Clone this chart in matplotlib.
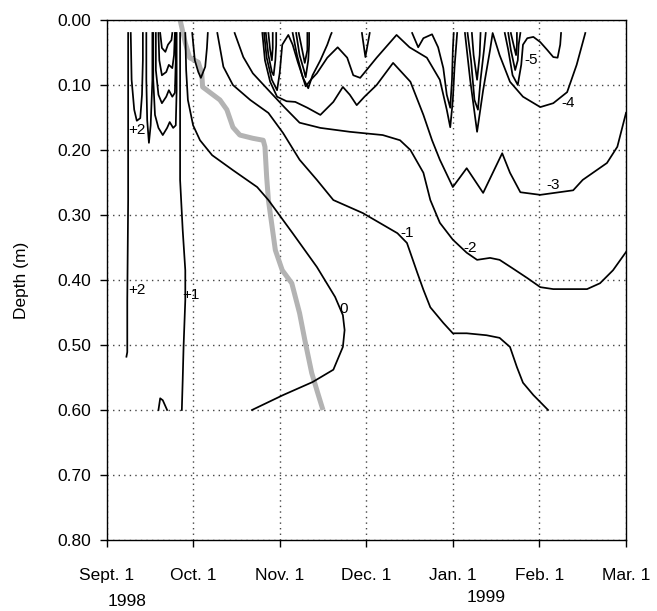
import matplotlib
matplotlib.use("Agg")
import matplotlib.pyplot as plt

# =========================
# data: x = months since Sept. 1 1998, y = depth (m)
# =========================
month_labels = ["Sept. 1", "Oct. 1", "Nov. 1", "Dec. 1", "Jan. 1", "Feb. 1", "Mar. 1"]
depth_ticks = [0.0, 0.1, 0.2, 0.3, 0.4, 0.5, 0.6, 0.7, 0.8]

# frost front (gray)
frost_front = [(0.85, 0.0), (0.91, 0.035), (0.96, 0.058), (1.06, 0.065), (1.10, 0.082),
               (1.11, 0.103), (1.20, 0.112), (1.31, 0.123), (1.39, 0.138), (1.46, 0.165),
               (1.54, 0.177), (1.69, 0.182), (1.81, 0.185), (1.83, 0.195), (1.85, 0.242),
               (1.87, 0.277), (1.95, 0.354), (2.03, 0.385), (2.14, 0.405), (2.23, 0.451),
               (2.29, 0.492), (2.37, 0.543), (2.44, 0.574), (2.50, 0.600)]

# +2 isotherms
iso_p2_long = [(0.25, 0.02), (0.25, 0.277), (0.24, 0.431), (0.24, 0.511), (0.23, 0.518)]
iso_p2_u = [(0.28, 0.02), (0.29, 0.092), (0.32, 0.138), (0.35, 0.155), (0.39, 0.151),
            (0.41, 0.115), (0.42, 0.062), (0.42, 0.02)]
iso_p2_v = [(0.46, 0.02), (0.46, 0.092), (0.47, 0.154), (0.49, 0.189), (0.51, 0.162),
            (0.53, 0.092), (0.53, 0.02)]
iso_p2_arch = [(0.60, 0.60), (0.62, 0.582), (0.65, 0.585), (0.70, 0.60)]
# warm nested loops near the surface
warm_1 = [(0.54, 0.02), (0.54, 0.092), (0.56, 0.146), (0.60, 0.166), (0.65, 0.177),
          (0.70, 0.166), (0.73, 0.157), (0.77, 0.166), (0.80, 0.162), (0.81, 0.108), (0.81, 0.02)]
warm_2 = [(0.57, 0.02), (0.57, 0.077), (0.60, 0.115), (0.64, 0.128), (0.69, 0.118),
          (0.72, 0.108), (0.76, 0.118), (0.79, 0.112), (0.80, 0.062), (0.80, 0.02)]
warm_3 = [(0.60, 0.02), (0.61, 0.062), (0.64, 0.085), (0.69, 0.080), (0.72, 0.069),
          (0.76, 0.074), (0.78, 0.054), (0.79, 0.02)]
warm_4 = [(0.62, 0.02), (0.64, 0.043), (0.68, 0.049), (0.71, 0.038), (0.75, 0.031), (0.76, 0.02)]

# +1 isotherms
iso_p1 = [(0.85, 0.02), (0.85, 0.123), (0.85, 0.246), (0.88, 0.323), (0.91, 0.385),
          (0.91, 0.431), (0.89, 0.503), (0.88, 0.554), (0.87, 0.600)]
iso_p1_u = [(0.99, 0.02), (1.02, 0.062), (1.06, 0.080), (1.09, 0.089), (1.14, 0.072),
            (1.16, 0.043), (1.17, 0.02)]

# 0 isotherm
iso_0 = [(0.91, 0.02), (0.92, 0.077), (0.94, 0.123), (1.00, 0.162), (1.08, 0.185),
         (1.22, 0.208), (1.46, 0.231), (1.74, 0.257), (1.87, 0.277), (2.15, 0.328),
         (2.43, 0.380), (2.64, 0.426), (2.73, 0.454), (2.75, 0.477), (2.73, 0.503),
         (2.62, 0.538), (2.38, 0.557), (2.04, 0.577), (1.68, 0.600)]

# -1 isotherm
iso_m1 = [(1.28, 0.02), (1.35, 0.072), (1.46, 0.100), (1.66, 0.123), (1.87, 0.143),
          (2.04, 0.174), (2.23, 0.215), (2.43, 0.246), (2.62, 0.277), (2.96, 0.297),
          (3.36, 0.328), (3.47, 0.343), (3.59, 0.389), (3.66, 0.415), (3.74, 0.442),
          (3.89, 0.466), (4.00, 0.482), (4.16, 0.482), (4.39, 0.485), (4.54, 0.489),
          (4.66, 0.503), (4.74, 0.534), (4.81, 0.558), (4.93, 0.577), (5.10, 0.600)]

# -2 isotherm
iso_m2 = [(1.48, 0.02), (1.58, 0.057), (1.69, 0.082), (1.85, 0.105), (2.06, 0.135),
          (2.23, 0.158), (2.47, 0.166), (2.81, 0.172), (3.19, 0.177), (3.39, 0.185),
          (3.51, 0.200), (3.66, 0.235), (3.74, 0.277), (3.85, 0.312), (4.00, 0.338),
          (4.16, 0.358), (4.28, 0.369), (4.43, 0.366), (4.54, 0.369), (4.69, 0.382),
          (4.86, 0.397), (5.01, 0.411), (5.16, 0.414), (5.55, 0.414), (5.70, 0.405),
          (5.85, 0.385), (6.00, 0.357)]

# -3 isotherm
iso_m3 = [(1.80, 0.02), (1.83, 0.062), (1.89, 0.095), (1.97, 0.118), (2.08, 0.125),
          (2.18, 0.126), (2.32, 0.135), (2.47, 0.146), (2.62, 0.126), (2.73, 0.103),
          (2.81, 0.115), (2.89, 0.131), (2.98, 0.118), (3.12, 0.100), (3.31, 0.066),
          (3.51, 0.095), (3.66, 0.146), (3.76, 0.185), (3.85, 0.215), (4.00, 0.257),
          (4.16, 0.228), (4.35, 0.266), (4.57, 0.205), (4.66, 0.235), (4.78, 0.265),
          (5.01, 0.269), (5.39, 0.262), (5.50, 0.246), (5.78, 0.220), (5.90, 0.195),
          (6.00, 0.143)]
cold_w1 = [(1.82, 0.02), (1.85, 0.058), (1.91, 0.092), (1.97, 0.108), (2.00, 0.082),
           (2.03, 0.038), (2.10, 0.023), (2.15, 0.038), (2.21, 0.065), (2.27, 0.089),
           (2.33, 0.105), (2.38, 0.085), (2.47, 0.062), (2.55, 0.038), (2.59, 0.023), (2.60, 0.02)]
cold_b1a = [(1.84, 0.02), (1.87, 0.054), (1.91, 0.080), (1.93, 0.085), (1.95, 0.062),
            (1.96, 0.038), (1.96, 0.02)]
cold_b1b = [(1.87, 0.02), (1.89, 0.046), (1.91, 0.062), (1.92, 0.043), (1.92, 0.02)]
cold_b2a = [(2.19, 0.02), (2.23, 0.054), (2.28, 0.077), (2.30, 0.088), (2.33, 0.062),
            (2.34, 0.038), (2.34, 0.02)]
cold_b2b = [(2.22, 0.02), (2.26, 0.046), (2.29, 0.066), (2.32, 0.046), (2.32, 0.02)]
cold_dec = [(2.95, 0.02), (2.99, 0.057), (3.04, 0.02)]

# -4 isotherm
iso_m4a = [(2.15, 0.02), (2.20, 0.054), (2.26, 0.085), (2.30, 0.102), (2.36, 0.092),
           (2.43, 0.082), (2.55, 0.058), (2.67, 0.042), (2.78, 0.058), (2.85, 0.085),
           (2.93, 0.089), (3.12, 0.058), (3.35, 0.023), (3.50, 0.042), (3.70, 0.058),
           (3.85, 0.092), (3.93, 0.138), (3.97, 0.165), (4.00, 0.123), (4.02, 0.072), (4.05, 0.02)]
iso_m4b = [(4.14, 0.02), (4.20, 0.092), (4.28, 0.172), (4.35, 0.108), (4.43, 0.046),
           (4.46, 0.02), (4.54, 0.054), (4.66, 0.095), (4.81, 0.118), (5.01, 0.134),
           (5.16, 0.128), (5.32, 0.111), (5.43, 0.069), (5.53, 0.02)]
cold_jan1 = [(3.53, 0.02), (3.60, 0.042), (3.66, 0.028), (3.76, 0.022), (3.83, 0.042),
             (3.89, 0.074), (3.93, 0.115), (3.97, 0.135), (3.99, 0.092), (4.00, 0.046), (4.01, 0.02)]
cold_jan2 = [(4.17, 0.02), (4.21, 0.062), (4.25, 0.123), (4.29, 0.138), (4.32, 0.092),
             (4.36, 0.046), (4.38, 0.02)]
cold_jan3 = [(4.22, 0.02), (4.24, 0.054), (4.28, 0.092), (4.31, 0.054), (4.32, 0.02)]

# -5 isotherm
iso_m5 = [(4.60, 0.02), (4.64, 0.046), (4.69, 0.085), (4.75, 0.100), (4.79, 0.069),
          (4.81, 0.038), (4.86, 0.028), (4.93, 0.026), (5.01, 0.034), (5.09, 0.046),
          (5.16, 0.057), (5.21, 0.058), (5.24, 0.038), (5.25, 0.02)]
cold_m5a = [(4.64, 0.02), (4.67, 0.046), (4.72, 0.077), (4.75, 0.062), (4.76, 0.038), (4.78, 0.02)]
cold_m5b = [(4.67, 0.02), (4.71, 0.043), (4.73, 0.054), (4.74, 0.038), (4.74, 0.02)]

isotherms = [iso_p2_long, iso_p2_u, iso_p2_v, iso_p2_arch, warm_1, warm_2, warm_3, warm_4,
             iso_p1, iso_p1_u, iso_0, iso_m1, iso_m2, iso_m3, cold_w1, cold_b1a, cold_b1b,
             cold_b2a, cold_b2b, cold_dec, iso_m4a, iso_m4b, cold_jan1, cold_jan2, cold_jan3,
             iso_m5, cold_m5a, cold_m5b]

# contour labels (text, month, depth)
contour_labels = [("+2", 0.35, 0.169), ("+2", 0.35, 0.415), ("+1", 0.98, 0.423),
                  ("0", 2.74, 0.445), ("-1", 3.47, 0.328), ("-2", 4.20, 0.351),
                  ("-3", 5.16, 0.254), ("-4", 5.33, 0.128), ("-5", 4.91, 0.062)]

# =========================
# plot
# =========================
plt.rcParams.update({
    'font.family': ['Liberation Sans', 'DejaVu Sans'],
    'font.size': 12.5,
})

fig = plt.figure(figsize=(6.57, 6.11), dpi=100)
ax = fig.add_axes([106.5 / 657, 1 - 540 / 611, 519.5 / 657, 520 / 611])

xs, ys = zip(*frost_front)
ax.plot(xs, ys, color='#b3b3b3', linewidth=3.6, solid_capstyle='butt', zorder=2)

for line in isotherms:
    xs, ys = zip(*line)
    ax.plot(xs, ys, color='black', linewidth=1.25, zorder=3)

for txt, mx, dz in contour_labels:
    ax.text(mx, dz, txt, fontsize=11, ha='center', va='center', zorder=4)

ax.set_xlim(0, 6)
ax.set_ylim(0.8, 0.0)
ax.set_xticks(range(len(month_labels)))
ax.set_xticklabels(month_labels)
ax.set_yticks(depth_ticks)
ax.set_yticklabels([f'{d:.2f}' for d in depth_ticks])
ax.tick_params(direction='out', length=5, width=1)
ax.tick_params(axis='x', pad=15)
ax.tick_params(axis='y', pad=6)
ax.set_ylabel('Depth (m)', fontsize=12.5)
ax.yaxis.set_label_coords(-0.15, 0.5)
ax.grid(True, linestyle=(0, (1, 3)), color='#444444', linewidth=1.0)
ax.set_axisbelow(True)
for sp in ax.spines.values():
    sp.set_linewidth(1.0)

fig.text(127 / 657, 1 - 601 / 611, '1998', ha='center', va='center', fontsize=12.5)
fig.text(486 / 657, 1 - 597 / 611, '1999', ha='center', va='center', fontsize=12.5)

plt.savefig('out.png', dpi=100)
